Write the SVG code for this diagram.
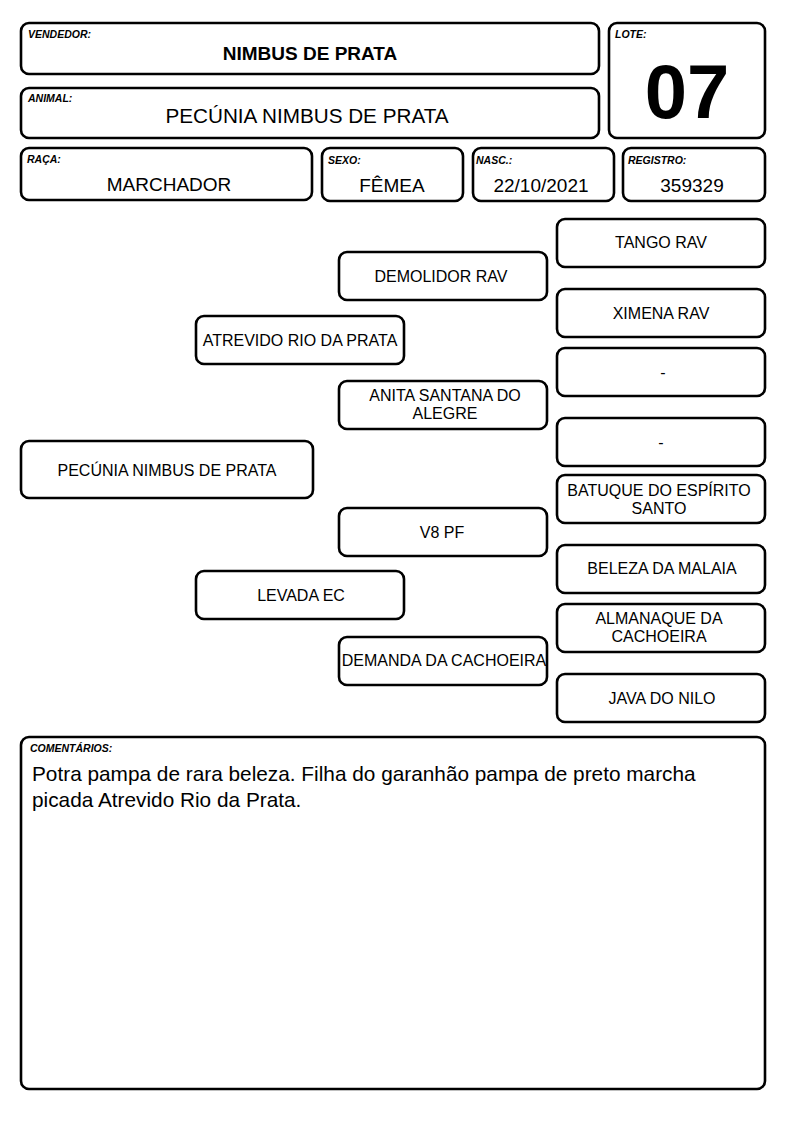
<svg xmlns="http://www.w3.org/2000/svg" width="794" height="1123" viewBox="0 0 794 1123">
<style>
.box{fill:#fff;stroke:#000;stroke-width:2.6}
.lbl{font-family:"Liberation Sans",Arial,sans-serif;font-size:10.5px;font-weight:bold;font-style:italic;fill:#000}
.val{font-family:"Liberation Sans",Arial,sans-serif;font-size:19px;fill:#000;text-anchor:middle}
.t{font-family:"Liberation Sans",Arial,sans-serif;font-size:16px;fill:#000;text-anchor:middle}
.c{font-family:"Liberation Sans",Arial,sans-serif;font-size:20.8px;fill:#000}
</style>
<rect width="794" height="1123" fill="#fff"/>
<g id="vendedor">
<rect class="box" x="21" y="23" width="578" height="51" rx="8"/>
<text class="lbl" x="28" y="38">VENDEDOR:</text>
<text class="val" x="310" y="60" style="font-weight:bold">NIMBUS DE PRATA</text>
</g>
<g id="animal">
<rect class="box" x="21" y="88" width="578" height="50" rx="8"/>
<text class="lbl" x="28" y="102">ANIMAL:</text>
<text class="val" x="307" y="123" style="font-size:20.7px">PECÚNIA NIMBUS DE PRATA</text>
</g>
<g id="lote">
<rect class="box" x="609" y="23" width="156" height="115" rx="8"/>
<text class="lbl" x="615" y="38">LOTE:</text>
<text x="687" y="118" font-family="'Liberation Sans',Arial,sans-serif" font-size="76" font-weight="bold" text-anchor="middle">07</text>
</g>
<g id="raca">
<rect class="box" x="21" y="148" width="291" height="52" rx="8"/>
<text class="lbl" x="27" y="163">RAÇA:</text>
<text class="val" x="169" y="191">MARCHADOR</text>
</g>
<g id="sexo">
<rect class="box" x="322" y="148" width="141" height="53" rx="8"/>
<text class="lbl" x="328" y="164">SEXO:</text>
<text class="val" x="392" y="192">FÊMEA</text>
</g>
<g id="nasc">
<rect class="box" x="473" y="148" width="141" height="53" rx="8"/>
<text class="lbl" x="476" y="164">NASC.:</text>
<text class="val" x="541" y="192">22/10/2021</text>
</g>
<g id="registro">
<rect class="box" x="623" y="148" width="142" height="53" rx="8"/>
<text class="lbl" x="628" y="164">REGISTRO:</text>
<text class="val" x="692" y="192">359329</text>
</g>
<g id="tango">
<rect class="box" x="557" y="219" width="208" height="48" rx="8"/>
<text class="t" x="661" y="248">TANGO RAV</text>
</g>
<g id="demolidor">
<rect class="box" x="339" y="252" width="208" height="48" rx="8"/>
<text class="t" x="441" y="282">DEMOLIDOR RAV</text>
</g>
<g id="ximena">
<rect class="box" x="557" y="289" width="208" height="48" rx="8"/>
<text class="t" x="661" y="319">XIMENA RAV</text>
</g>
<g id="atrevido">
<rect class="box" x="196" y="316" width="208" height="48" rx="8"/>
<text class="t" x="300" y="346">ATREVIDO RIO DA PRATA</text>
</g>
<g id="desconhecido1">
<rect class="box" x="557" y="348" width="208" height="48" rx="8"/>
<text class="t" x="663" y="378">-</text>
</g>
<g id="anita">
<rect class="box" x="339" y="381" width="208" height="48" rx="8"/>
<text class="t" x="445" y="401">ANITA SANTANA DO</text>
<text class="t" x="445" y="419">ALEGRE</text>
</g>
<g id="desconhecido2">
<rect class="box" x="557" y="418" width="208" height="48" rx="8"/>
<text class="t" x="661" y="448">-</text>
</g>
<g id="pecunia">
<rect class="box" x="21" y="441" width="292" height="57" rx="8"/>
<text class="t" x="167" y="476">PECÚNIA NIMBUS DE PRATA</text>
</g>
<g id="batuque">
<rect class="box" x="557" y="475" width="208" height="48" rx="8"/>
<text class="t" x="659" y="496">BATUQUE DO ESPÍRITO</text>
<text class="t" x="659" y="514">SANTO</text>
</g>
<g id="v8pf">
<rect class="box" x="339" y="508" width="208" height="48" rx="8"/>
<text class="t" x="442" y="538">V8 PF</text>
</g>
<g id="beleza">
<rect class="box" x="557" y="545" width="208" height="48" rx="8"/>
<text class="t" x="662" y="574">BELEZA DA MALAIA</text>
</g>
<g id="levada">
<rect class="box" x="196" y="571" width="208" height="48" rx="8"/>
<text class="t" x="301" y="601">LEVADA EC</text>
</g>
<g id="almanaque">
<rect class="box" x="557" y="604" width="208" height="48" rx="8"/>
<text class="t" x="659" y="624">ALMANAQUE DA</text>
<text class="t" x="659" y="642">CACHOEIRA</text>
</g>
<g id="demanda">
<rect class="box" x="339" y="637" width="208" height="48" rx="8"/>
<text class="t" x="444" y="666">DEMANDA DA CACHOEIRA</text>
</g>
<g id="java">
<rect class="box" x="557" y="674" width="208" height="48" rx="8"/>
<text class="t" x="662" y="704">JAVA DO NILO</text>
</g>
<g id="comentarios">
<rect class="box" x="21" y="737" width="744" height="352" rx="8"/>
<text class="lbl" x="30" y="752">COMENTÁRIOS:</text>
<text class="c" x="32" y="781">Potra pampa de rara beleza. Filha do garanhão pampa de preto marcha</text>
<text class="c" x="32" y="807">picada Atrevido Rio da Prata.</text>
</g>
<g id="connectors"></g>
</svg>
